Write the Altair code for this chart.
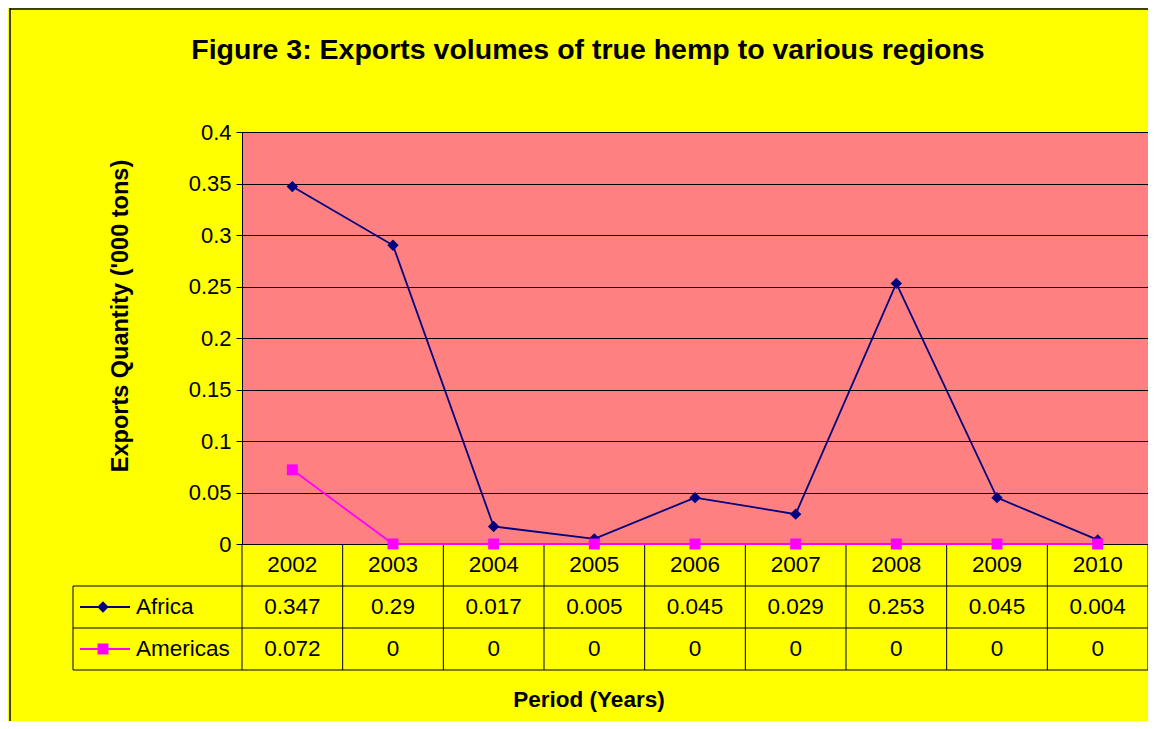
import altair as alt
import pandas as pd

years = [2002, 2003, 2004, 2005, 2006, 2007, 2008, 2009, 2010]
africa = [0.347, 0.29, 0.017, 0.005, 0.045, 0.029, 0.253, 0.045, 0.004]
americas = [0.072, 0, 0, 0, 0, 0, 0, 0, 0]
regions = ["Africa", "Americas"]
colors = ["#000080", "#FF00FF"]
shapes = ["diamond", "square"]
y_ticks = [0, 0.05, 0.1, 0.15, 0.2, 0.25, 0.3, 0.35, 0.4]

FONT = "Liberation Sans"
W, H = 906, 412
ROW = 42
FS = 22.5
SIZES = [130, 120]

long = pd.DataFrame({
    "year": years * 2,
    "region": ["Africa"] * len(years) + ["Americas"] * len(years),
    "value": africa + americas,
})
table = pd.DataFrame({"year": years, "africa": africa, "americas": americas})
bounds = pd.DataFrame({"b": [y - 0.5 for y in years] + [years[-1] + 0.5]})
one = pd.DataFrame({"k": [0]})

xscale = alt.Scale(domain=[years[0] - 0.5, years[-1] + 0.5], nice=False, zero=False)
xenc = alt.X("year:Q", scale=xscale, axis=None)
color = alt.Color("region:N", scale=alt.Scale(domain=regions, range=colors), legend=None)
shape = alt.Shape("region:N", scale=alt.Scale(domain=regions, range=shapes), legend=None)
size = alt.Size("region:N", scale=alt.Scale(domain=regions, range=SIZES), legend=None)

yenc = alt.Y(
    "value:Q",
    scale=alt.Scale(domain=[0, 0.4], nice=False),
    axis=alt.Axis(
        values=y_ticks, format=".2~f", title=None,
        labelFont=FONT, labelFontSize=22, labelColor="#000000", labelPadding=5,
        tickSize=6, tickColor="#000000", domainColor="#000000",
        grid=True, gridColor="#000000", gridWidth=1, gridOpacity=1,
    ),
)

lines = alt.Chart(long).mark_line(strokeWidth=1.8).encode(x=xenc, y=yenc, color=color)
points = alt.Chart(long).mark_point(filled=True, opacity=1).encode(
    x=xenc, y="value:Q", color=color, shape=shape, size=size
)

txt = dict(font=FONT, fontSize=FS, color="#000000", baseline="middle", align="center")
year_row = alt.Chart(table).mark_text(**txt).encode(
    x=alt.X("year:Q", scale=xscale, axis=None), y=alt.value(H + ROW / 2), text="year:N"
)
afr_row = alt.Chart(table).mark_text(**txt).encode(
    x=alt.X("year:Q", scale=xscale, axis=None), y=alt.value(H + ROW * 1.5),
    text=alt.Text("africa:Q", format=".3~f"),
)
ame_row = alt.Chart(table).mark_text(**txt).encode(
    x=alt.X("year:Q", scale=xscale, axis=None), y=alt.value(H + ROW * 2.5),
    text=alt.Text("americas:Q", format=".3~f"),
)

vlines = alt.Chart(bounds).mark_rule(color="#000000", strokeWidth=1).encode(
    x=alt.X("b:Q", scale=xscale, axis=None), y=alt.value(H), y2=alt.value(H + 3 * ROW)
)
LEFT = -169
hlines = [
    alt.Chart(one).mark_rule(color="#000000", strokeWidth=1).encode(
        x=alt.value(LEFT), x2=alt.value(W), y=alt.value(H + k * ROW)
    )
    for k in (1, 2, 3)
]
left_border = alt.Chart(one).mark_rule(color="#000000", strokeWidth=1).encode(
    x=alt.value(LEFT), y=alt.value(H + ROW), y2=alt.value(H + 3 * ROW)
)

# legend keys inside table
leg = []
for i, (name, col, shp, sz) in enumerate(zip(regions, colors, shapes, SIZES)):
    yy = H + ROW * (1.5 + i)
    leg.append(alt.Chart(one).mark_rule(color=col, strokeWidth=1.8).encode(
        x=alt.value(-162), x2=alt.value(-112), y=alt.value(yy)))
    leg.append(alt.Chart(one).mark_point(filled=True, opacity=1, size=sz, color=col, shape=shp).encode(
        x=alt.value(-139), y=alt.value(yy)))
    leg.append(alt.Chart(one).mark_text(font=FONT, fontSize=FS, color="#000000", align="left",
                                        baseline="middle").encode(
        x=alt.value(-106), y=alt.value(yy), text=alt.value(name)))

title = alt.Chart(one).mark_text(font=FONT, fontSize=28.5, fontWeight="bold", color="#000000",
                                 align="center", baseline="middle").encode(
    x=alt.value(346), y=alt.value(-82), text=alt.value("Figure 3: Exports volumes of true hemp to various regions"))
xtitle = alt.Chart(one).mark_text(font=FONT, fontSize=22.5, fontWeight="bold", color="#000000",
                                  align="center", baseline="middle").encode(
    x=alt.value(347), y=alt.value(568), text=alt.value("Period (Years)"))
ytitle = alt.Chart(one).mark_text(font=FONT, fontSize=23.5, fontWeight="bold", color="#000000",
                                  align="center", baseline="middle", angle=270).encode(
    x=alt.value(-121), y=alt.value(184), text=alt.value("Exports Quantity ('000 tons)"))

outer = [
    alt.Chart(one).mark_rule(color="#000000", strokeWidth=1.5).encode(
        x=alt.value(-232), y=alt.value(-124), y2=alt.value(H + 177)),
    alt.Chart(one).mark_rule(color="#000000", strokeWidth=1.5).encode(
        x=alt.value(-232), x2=alt.value(W), y=alt.value(-123)),
]

chart = alt.layer(
    vlines, *hlines, left_border, lines, points, year_row, afr_row, ame_row,
    *leg, title, xtitle, ytitle, *outer,
).properties(
    width=W, height=H,
    autosize=alt.AutoSizeParams(type="none"),
    padding={"left": 234, "top": 124, "right": 0, "bottom": 177},
    background="#FFFF00",
).configure_view(fill="#FF8080", stroke="#808080")

chart.save("out.html", embed_options={"renderer": "svg", "actions": False})
